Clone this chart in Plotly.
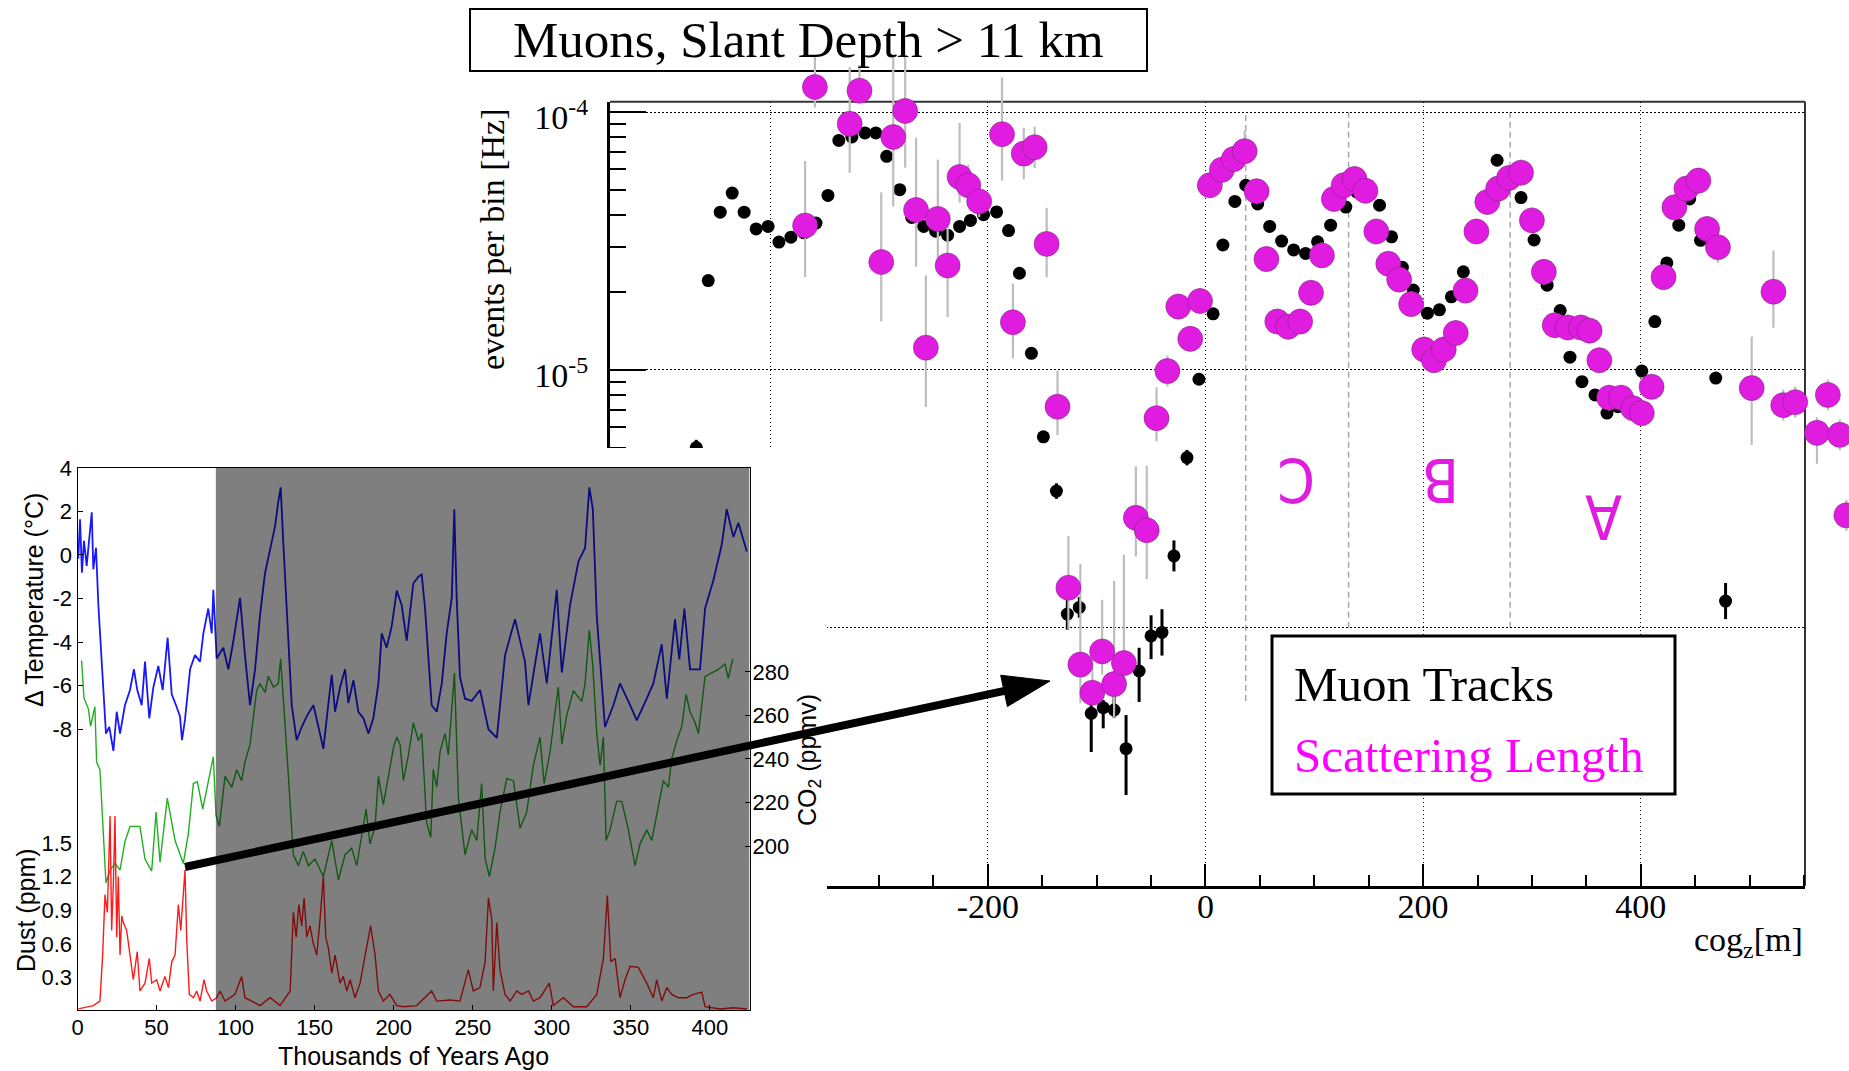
import numpy as np
import plotly.graph_objects as go

W, H = 1849, 1071


def px(x):
    return x / W


def py(y):
    return 1 - y / H


# ---------------- main plot: Muon Tracks (black) ----------------
mt_x = [-468, -457, -446, -435, -424, -413, -402, -392, -381, -369,
        -358, -347, -337, -325, -313, -303, -293, -281, -270, -259,
        -248, -237, -226, -216, -204, -192, -181, -171, -160, -149,
        -137, -127, -116, -105, -94, -84, -73, -61, -50, -40,
        -29, -17, -6, 7, 16, 27, 37, 48, 59, 70,
        81, 92, 103, 115, 129, 139, 150, 160, 171, 181,
        191, 204, 215, 226, 237, 248, 258, 268, 279, 290,
        302, 314, 326, 335, 346, 358, 369, 379, 390, 401,
        413, 424, 435, 445, 455, 469, 478]
mt_y = [5.0e-6, 2.22e-5, 4.09e-5, 4.85e-5, 4.09e-5, 3.52e-5, 3.6e-5, 3.13e-5, 3.27e-5, 3.4e-5,
        3.71e-5, 4.75e-5, 7.76e-5, 8.0e-5, 8.3e-5, 8.3e-5, 6.73e-5, 5.0e-5, 3.9e-5, 3.6e-5,
        3.45e-5, 3.33e-5, 3.6e-5, 3.8e-5, 4.0e-5, 4.1e-5, 3.47e-5, 2.37e-5, 1.16e-5, 5.5e-6,
        3.39e-6, 1.13e-6, 1.2e-6, 4.66e-7, 4.9e-7, 4.8e-7, 3.4e-7, 6.8e-7, 9.3e-7, 9.6e-7,
        1.9e-6, 4.57e-6, 9.2e-6, 1.65e-5, 3.05e-5, 4.5e-5, 5.2e-5, 4.4e-5, 3.6e-5, 3.16e-5,
        2.92e-5, 2.83e-5, 3.14e-5, 3.64e-5, 4.28e-5, 4.9e-5, 4.8e-5, 4.35e-5, 3.28e-5, 2.5e-5,
        2.04e-5, 1.66e-5, 1.71e-5, 1.92e-5, 2.4e-5, 3.5e-5, 4.6e-5, 6.5e-5, 5.8e-5, 4.66e-5,
        3.19e-5, 2.13e-5, 1.7e-5, 1.12e-5, 9.0e-6, 8.0e-6, 6.8e-6, 7.2e-6, 7.6e-6, 9.9e-6,
        1.54e-5, 2.6e-5, 3.64e-5, 4.6e-5, 3.18e-5, 9.3e-6, 1.27e-6]
# error bar lengths in decades (up / down)
mt_err_up = [0.03, 0.02, 0.02, 0.02, 0.02, 0.02, 0.02, 0.02, 0.02, 0.02,
             0.02, 0.02, 0.02, 0.02, 0.02, 0.02, 0.02, 0.02, 0.02, 0.02,
             0.02, 0.02, 0.02, 0.02, 0.02, 0.02, 0.02, 0.02, 0.02, 0.02,
             0.03, 0.06, 0.04, 0.05, 0.03, 0.06, 0.13, 0.09, 0.08, 0.09,
             0.06, 0.03, 0.02, 0.02, 0.02, 0.02, 0.02, 0.02, 0.02, 0.02,
             0.02, 0.02, 0.02, 0.02, 0.02, 0.02, 0.02, 0.02, 0.02, 0.02,
             0.02, 0.02, 0.02, 0.02, 0.02, 0.02, 0.02, 0.02, 0.02, 0.02,
             0.02, 0.02, 0.02, 0.02, 0.02, 0.02, 0.02, 0.02, 0.02, 0.02,
             0.02, 0.02, 0.02, 0.02, 0.02, 0.02, 0.07]
mt_err_dn = [0.03, 0.02, 0.02, 0.02, 0.02, 0.02, 0.02, 0.02, 0.02, 0.02,
             0.02, 0.02, 0.02, 0.02, 0.02, 0.02, 0.02, 0.02, 0.02, 0.02,
             0.02, 0.02, 0.02, 0.02, 0.02, 0.02, 0.02, 0.02, 0.02, 0.02,
             0.03, 0.06, 0.04, 0.15, 0.08, 0.03, 0.18, 0.12, 0.09, 0.09,
             0.06, 0.03, 0.02, 0.02, 0.02, 0.02, 0.02, 0.02, 0.02, 0.02,
             0.02, 0.02, 0.02, 0.02, 0.02, 0.02, 0.02, 0.02, 0.02, 0.02,
             0.02, 0.02, 0.02, 0.02, 0.02, 0.02, 0.02, 0.02, 0.02, 0.02,
             0.02, 0.02, 0.02, 0.02, 0.02, 0.02, 0.02, 0.02, 0.02, 0.02,
             0.02, 0.02, 0.02, 0.02, 0.02, 0.02, 0.07]

# ---------------- main plot: Scattering Length (magenta) ----------------
sl_x = [-368, -359, -327, -318, -298, -287, -276, -266, -257, -246,
        -237, -226, -218, -208, -187, -177, -167, -157, -146, -136,
        -126, -115, -104, -95, -84, -75, -64, -54, -45, -35,
        -25, -14, -5, 4, 15, 26, 36, 47, 56, 66,
        76, 87, 97, 107, 118, 127, 137, 147, 157, 168,
        178, 189, 201, 210, 219, 230, 239, 249, 259, 269,
        279, 290, 300, 311, 321, 333, 345, 353, 362, 371,
        382, 393, 401, 410, 421, 431, 442, 453, 461, 471,
        502, 522, 531, 542, 562, 572, 583, 589]
sl_y = [3.63e-5, 1.25e-4, 9.0e-5, 1.21e-4, 2.62e-5, 8.0e-5, 1.01e-4, 4.17e-5, 1.22e-5, 3.85e-5,
        2.54e-5, 5.6e-5, 5.2e-5, 4.5e-5, 8.2e-5, 1.53e-5, 6.9e-5, 7.3e-5, 3.08e-5, 7.2e-6,
        1.43e-6, 7.2e-7, 5.6e-7, 8.1e-7, 6.05e-7, 7.3e-7, 2.67e-6, 2.39e-6, 6.5e-6, 9.9e-6,
        1.76e-5, 1.32e-5, 1.85e-5, 5.2e-5, 5.97e-5, 6.57e-5, 7.05e-5, 4.93e-5, 2.69e-5, 1.54e-5,
        1.47e-5, 1.54e-5, 1.99e-5, 2.78e-5, 4.6e-5, 5.2e-5, 5.5e-5, 4.95e-5, 3.44e-5, 2.58e-5,
        2.24e-5, 1.8e-5, 1.2e-5, 1.09e-5, 1.2e-5, 1.39e-5, 2.03e-5, 3.44e-5, 4.48e-5, 5.05e-5,
        5.55e-5, 5.82e-5, 3.8e-5, 2.4e-5, 1.49e-5, 1.46e-5, 1.46e-5, 1.42e-5, 1.09e-5, 7.8e-6,
        7.8e-6, 7.1e-6, 6.8e-6, 8.6e-6, 2.29e-5, 4.27e-5, 5.05e-5, 5.42e-5, 3.52e-5, 2.99e-5,
        8.5e-6, 2.01e-5, 7.3e-6, 7.5e-6, 5.7e-6, 8.0e-6, 5.6e-6, 2.73e-6]
sl_err_up = [0.25, 0.12, 0.22, 0.10, 0.27, 0.31, 0.21, 0.28, 0.28, 0.23,
             0.19, 0.21, 0.08, 0.06, 0.22, 0.15, 0.10, 0.08, 0.14, 0.14,
             0.20, 0.39, 0.10, 0.20, 0.40, 0.42, 0.20, 0.25, 0.12, 0.06,
             0.05, 0.05, 0.05, 0.05, 0.05, 0.05, 0.08, 0.05, 0.05, 0.05,
             0.05, 0.05, 0.05, 0.05, 0.05, 0.05, 0.05, 0.05, 0.05, 0.05,
             0.05, 0.05, 0.05, 0.05, 0.05, 0.05, 0.05, 0.05, 0.05, 0.05,
             0.05, 0.05, 0.05, 0.05, 0.05, 0.05, 0.05, 0.05, 0.05, 0.05,
             0.05, 0.05, 0.05, 0.05, 0.05, 0.05, 0.05, 0.05, 0.05, 0.06,
             0.20, 0.16, 0.06, 0.06, 0.06, 0.06, 0.06, 0.06]
sl_err_dn = [0.20, 0.08, 0.19, 0.05, 0.23, 0.27, 0.22, 0.22, 0.23, 0.19,
             0.20, 0.10, 0.06, 0.06, 0.18, 0.14, 0.10, 0.08, 0.13, 0.11,
             0.16, 0.15, 0.05, 0.09, 0.13, 0.09, 0.15, 0.19, 0.09, 0.06,
             0.05, 0.05, 0.05, 0.05, 0.05, 0.05, 0.05, 0.05, 0.05, 0.05,
             0.05, 0.05, 0.05, 0.05, 0.05, 0.05, 0.05, 0.05, 0.05, 0.05,
             0.05, 0.05, 0.05, 0.05, 0.05, 0.05, 0.05, 0.05, 0.05, 0.05,
             0.05, 0.05, 0.05, 0.05, 0.05, 0.05, 0.05, 0.05, 0.05, 0.05,
             0.05, 0.05, 0.05, 0.05, 0.05, 0.05, 0.05, 0.05, 0.05, 0.06,
             0.22, 0.14, 0.06, 0.06, 0.12, 0.06, 0.06, 0.06]

# reference lines / labels on main plot
layer_x = [37, 131.5, 280]
layer_ybot = [5.2e-7, 1e-6, 1e-6]
main_xticks = [-400, -200, 0, 200, 400]
main_xticktext = ['-400', '-200', '0', '200', '400']
main_yticks = [1e-7, 1e-6, 1e-5, 1e-4]
main_yticktext = ['10<sup>-7</sup>', '10<sup>-6</sup>', '10<sup>-5</sup>', '10<sup>-4</sup>']

# ---------------- inset: Vostok ice core ----------------
temp_age = [0.5, 1.6, 2.8, 4.1, 5.8, 7.5, 9.0, 10, 11.7, 13.2,
            14.7, 16.3, 18, 20.1, 22.7, 24.8, 26.9, 30, 33.2, 35.7,
            37.8, 40.6, 42.7, 45.4, 47.9, 51.1, 53.9, 57, 59.6, 62.3,
            64.8, 66.1, 68, 71.2, 74.3, 77.5, 79.6, 82.7, 84.9, 85.9,
            88, 92.2, 95.4, 98.6, 102.8, 105.9, 109.1, 112.3, 115.4, 118.6,
            121.8, 124.9, 127, 128.5, 130.2, 132.3, 135.5, 138.6, 141.8, 145,
            149.2, 152.4, 155.5, 158.7, 160.8, 162.9, 166, 169.2, 171.3, 174.5,
            177.6, 180.8, 184, 187.1, 190.3, 192.4, 195.5, 198.7, 201.9, 205,
            208.2, 212.4, 215.6, 217.7, 219.8, 224, 227.2, 230.4, 233.5, 236.7,
            238.3, 239.8, 241.9, 245.1, 249.3, 254.6, 259.9, 265.2, 270.4, 276.7,
            283, 285.2, 292.5, 296.8, 303.1, 306.3, 311.5, 316.8, 321, 323.7,
            325.9, 328.4, 333.6, 338.9, 343.1, 349.5, 353.7, 360, 364.2, 369.5,
            372.7, 377.9, 380.6, 383.8, 387.4, 393.7, 396.9, 402.2, 407.5, 410.6,
            414.8, 418, 423.3]
temp_val = [-0.17, 1.64, -0.82, 0.65, -0.5, 0.82, 1.96, -0.66, 0.33, -2.3,
            -4.1, -6.56, -8.2, -7.9, -9.0, -7.2, -8.2, -6.9, -6.2, -5.25,
            -6.2, -6.9, -4.9, -7.5, -6.1, -5.1, -6.2, -3.8, -6.4, -6.9,
            -7.4, -8.5, -7.55, -5.25, -4.6, -4.9, -3.6, -2.46, -3.6, -1.6,
            -4.75, -4.26, -5.25, -3.94, -1.97, -4.6, -6.9, -5.25, -2.79, -0.83,
            0.33, 1.3, 2.45, 3.1, 0.49, -2.3, -6.9, -8.5, -7.9, -7.4,
            -6.9, -7.9, -8.9, -6.8, -5.5, -7.2, -6.1, -5.25, -6.8, -5.75,
            -7.2, -7.5, -8.2, -7.5, -5.9, -3.6, -4.26, -3.28, -1.64, -2.3,
            -3.94, -1.3, -1.0, -0.9, -2.46, -6.9, -7.2, -5.9, -3.6, -1.97,
            2.1, -1.97, -5.6, -6.6, -6.7, -6.2, -8.0, -8.4, -4.6, -2.95,
            -4.9, -6.9, -3.6, -5.9, -1.6, -5.4, -2.3, -0.3, 0.32, 3.1,
            2.1, -2.8, -7.9, -6.9, -5.9, -6.9, -7.6, -6.6, -5.9, -4.1,
            -6.6, -2.95, -4.8, -2.46, -5.25, -5.25, -2.46, -1.15, 0.49, 2.1,
            0.82, 1.47, 0.16]

co2_age = [2.6, 4.1, 6.9, 8.3, 11, 12.1, 14.2, 15.9, 18, 20.6,
           23.7, 26.9, 30, 33.2, 39.5, 42.7, 46.9, 49.7, 52.2, 56.8,
           61.7, 66.9, 70.1, 73.3, 75.8, 79.2, 82.7, 85.9, 87.6, 89.7,
           93.3, 97.5, 100.7, 103.8, 105.9, 109.1, 113.3, 115.4, 118.6, 120.7,
           123.9, 127, 128.5, 130.6, 133.4, 136.5, 139.7, 142.8, 146, 150.2,
           155.5, 160.8, 165, 169.2, 173.4, 176.6, 179.7, 182.5, 185, 188.2,
           190.3, 193.4, 196.6, 199.8, 201.9, 204, 206.1, 209.3, 212.4, 215.6,
           217.7, 220.8, 223.4, 225, 227.2, 229.3, 232.4, 234.5, 238.4, 240.9,
           245.1, 249.3, 252.5, 255.6, 257.8, 260.5, 264.1, 267.2, 271.5, 275.7,
           279.9, 284.1, 288.3, 292.5, 295.1, 298.9, 302, 304.1, 306.3, 309.4,
           313.6, 318.9, 321, 323.7, 325.9, 328.4, 330.5, 332.6, 334.3, 336.8,
           341, 344.2, 348.4, 352.6, 355.8, 360, 363.2, 367.4, 370.5, 373.7,
           375.8, 379, 382.2, 384.9, 387.4, 390.6, 392.7, 396.9, 401.1, 405.3,
           409.5, 411.6, 414.4]
co2_val = [285.2, 268, 263, 255, 264, 238.5, 235, 214, 183, 189,
           192, 189, 202, 209, 209, 194, 188.5, 215.6, 192.6, 222,
           202.5, 192, 205.7, 228.7, 229.5, 217, 228.7, 241, 214, 209,
           232, 227, 235, 230, 238.5, 246.7, 271.3, 274.6, 270.5, 278,
           273, 274.6, 286, 264.8, 232, 196, 191, 197.5, 191, 194,
           186, 202.5, 184.4, 196, 199, 191, 205.7, 217, 201, 209,
           232, 219, 232, 245, 250, 246.7, 230, 241.8, 256.6, 248.4,
           251.6, 210.7, 204, 235.2, 227, 243.4, 251.6, 241.8, 279.5, 222,
           196, 207.4, 202.5, 228.7, 194.3, 186, 199.2, 215.6, 231, 230,
           208.2, 215.6, 237, 250, 228.7, 243.4, 261.5, 273, 246.7, 260,
           271.3, 266.4, 274.6, 299.2, 282.8, 251.6, 237, 250, 202.5, 207.4,
           220.5, 220.5, 207.4, 191, 201, 207.4, 202.5, 219, 230, 227,
           240, 248.4, 255, 269.7, 261.5, 256.6, 251.6, 277.9, 279.5, 281.1,
           283.6, 277, 286]

dust_age = [0.5, 5.8, 10, 14.2, 15.9, 17.4, 18.9, 20.6, 21.6, 22.7,
            23.7, 24.8, 25.8, 26.9, 28, 29, 31.1, 33.2, 35.3, 37.8,
            39.5, 42.7, 45.4, 46.9, 50.1, 52.2, 55.3, 57.5, 59.6, 61.7,
            63.8, 65.3, 66.9, 68, 69.1, 70.7, 73.3, 75.4, 77.5, 80,
            81.7, 84.9, 88, 90.1, 93.3, 96.5, 99.6, 103.8, 105.9, 110.2,
            115.4, 121.8, 128.1, 134.5, 136.5, 138.3, 140, 141.8, 143.3, 145,
            147, 149.2, 151.3, 153.4, 155.5, 157, 158.7, 160.8, 162.9, 166,
            168.1, 170.3, 172.4, 175.5, 178.7, 181.9, 185.4, 188.2, 190.3, 193.4,
            197.6, 201.9, 206.1, 214.5, 224, 227.2, 235.6, 241.9, 247.2, 250.3,
            254.5, 257.8, 259.9, 262, 263, 265.2, 267.2, 270.4, 273.6, 277.8,
            281, 285.2, 288.3, 292.5, 298.4, 300.9, 307.3, 313.6, 322.1, 328.4,
            332.6, 335.1, 337.3, 340, 343.1, 346.3, 349.5, 354.7, 360, 364.2,
            366.3, 369.5, 372.7, 375.8, 380, 385.3, 389.5, 394.8, 396.9, 406.4,
            414.8, 423.3]
dust_val = [0.02, 0.04, 0.05, 0.09, 0.5, 1.04, 0.88, 1.74, 0.72, 1.14,
            1.74, 0.66, 1.2, 0.5, 0.85, 0.79, 0.72, 0.5, 0.28, 0.53,
            0.18, 0.25, 0.47, 0.25, 0.28, 0.18, 0.31, 0.21, 0.44, 0.5,
            0.95, 0.72, 1.07, 1.26, 0.63, 0.15, 0.12, 0.18, 0.09, 0.28,
            0.18, 0.09, 0.12, 0.18, 0.09, 0.12, 0.15, 0.31, 0.12, 0.09,
            0.05, 0.12, 0.05, 0.18, 0.88, 0.66, 0.95, 0.76, 1.01, 0.66,
            0.76, 0.6, 0.5, 0.82, 1.2, 0.66, 0.56, 0.34, 0.5, 0.25,
            0.31, 0.18, 0.28, 0.12, 0.25, 0.5, 0.76, 0.5, 0.18, 0.09,
            0.15, 0.05, 0.04, 0.05, 0.18, 0.09, 0.1, 0.09, 0.37, 0.18,
            0.21, 0.44, 1.01, 0.82, 0.18, 0.79, 0.37, 0.15, 0.09, 0.18,
            0.15, 0.18, 0.09, 0.12, 0.25, 0.05, 0.12, 0.04, 0.04, 0.15,
            0.47, 1.03, 0.44, 0.47, 0.12, 0.28, 0.4, 0.39, 0.25, 0.12,
            0.28, 0.09, 0.21, 0.15, 0.12, 0.12, 0.15, 0.17, 0.04, 0.02,
            0.03, 0.02]

inset_xticks = [0, 50, 100, 150, 200, 250, 300, 350, 400]
temp_ticks = [-8, -6, -4, -2, 0, 2, 4]
co2_ticks = [200, 220, 240, 260, 280]
dust_ticks = [0.3, 0.6, 0.9, 1.2, 1.5]
shaded_from = 87.5  # kyr, start of grey band

# ---------------- derived error bars ----------------
mt_y_a = np.array(mt_y)
sl_y_a = np.array(sl_y)
mt_up = mt_y_a * (10 ** np.array(mt_err_up) - 1)
mt_dn = mt_y_a * (1 - 10 ** (-np.array(mt_err_dn)))
sl_up = sl_y_a * (10 ** np.array(sl_err_up) - 1)
sl_dn = sl_y_a * (1 - 10 ** (-np.array(sl_err_dn)))

SERIF = 'Liberation Serif, Times New Roman, serif'
SANS = 'Liberation Sans, Arial, sans-serif'
MAG = '#E01CE0'

# ---------------- geometry (pixels) ----------------
MX0, MX1 = 610, 1805          # main frame left / right
MY_TOP, MY_BOT = 101.7, 885.7  # main frame top / bottom
XR = [-547.3, 551.0]
YR = [-7.0, -3.96]
kx = (MX1 - MX0) / (XR[1] - XR[0])
ky = (MY_BOT - MY_TOP) / (YR[1] - YR[0])
# extended, invisible axes carrying the data so that points above / right of the
# frame are still drawn (same scale as the visible axes)
XR_EXT = [XR[0], XR[0] + (W - MX0) / kx]
YR_EXT = [YR[0], YR[1] + MY_TOP / ky]

TEMP_RANGE = [-20.91, 4.0]
CO2_RANGE = [124.5, 373.7]
DUST_RANGE = [0.007, 4.843]

fig = go.Figure()

# dummy trace so the visible main axes exist as a subplot
fig.add_trace(go.Scatter(x=[0], y=[1e-5], mode='markers', xaxis='x', yaxis='y',
                         marker=dict(opacity=0), hoverinfo='skip', showlegend=False))

fig.add_trace(go.Scatter(
    x=mt_x, y=mt_y, mode='markers', xaxis='x2', yaxis='y2',
    marker=dict(size=13, color='black'),
    error_y=dict(type='data', symmetric=False, array=mt_up, arrayminus=mt_dn,
                 color='black', thickness=3, width=0),
    cliponaxis=False, hoverinfo='skip', showlegend=False))

fig.add_trace(go.Scatter(
    x=sl_x, y=sl_y, mode='markers', xaxis='x2', yaxis='y2',
    marker=dict(size=25, color=MAG, line=dict(color='rgba(120,40,120,0.55)', width=1)),
    error_y=dict(type='data', symmetric=False, array=sl_up, arrayminus=sl_dn,
                 color='#BDBDBD', thickness=2.2, width=0),
    cliponaxis=False, hoverinfo='skip', showlegend=False))

# white cover panel under the inset
fig.add_trace(go.Scatter(x=[0.5], y=[0.5], mode='markers', xaxis='x3', yaxis='y3',
                         marker=dict(opacity=0), hoverinfo='skip', showlegend=False))

# inset curves
fig.add_trace(go.Scatter(x=temp_age, y=temp_val, mode='lines', xaxis='x4', yaxis='y4',
                         line=dict(color='#1818FF', width=1.8), hoverinfo='skip', showlegend=False))
fig.add_trace(go.Scatter(x=co2_age, y=co2_val, mode='lines', xaxis='x4', yaxis='y5',
                         line=dict(color='#22B022', width=1.4), hoverinfo='skip', showlegend=False))
fig.add_trace(go.Scatter(x=dust_age, y=dust_val, mode='lines', xaxis='x4', yaxis='y6',
                         line=dict(color='#FF1A1A', width=1.4), hoverinfo='skip', showlegend=False))

hidden = dict(showgrid=False, zeroline=False, showticklabels=False, showline=False,
              ticks='', automargin=False)

fig.update_layout(
    width=W, height=H, margin=dict(l=0, r=0, t=0, b=0, pad=0, autoexpand=False),
    paper_bgcolor='white', plot_bgcolor='rgba(0,0,0,0)', showlegend=False,
    xaxis=dict(domain=[px(MX0), px(MX1)], range=XR, anchor='y', automargin=False,
               tickmode='array', tickvals=main_xticks, ticktext=main_xticktext,
               ticks='inside', ticklen=22, tickwidth=2, tickcolor='black',
               showline=True, linecolor='black', linewidth=3,
               showgrid=True, gridcolor='black', gridwidth=1, griddash='1.5px,2.5px',
               zeroline=False, ticklabelstandoff=-12,
               tickfont=dict(family=SERIF, size=34, color='black'),
               minor=dict(dtick=50, tick0=0, ticks='inside', ticklen=11, tickwidth=2,
                          tickcolor='black', showgrid=False)),
    yaxis=dict(type='log', domain=[py(MY_BOT), py(MY_TOP)], range=YR, anchor='x',
               automargin=False,
               tickmode='array', tickvals=main_yticks, ticktext=main_yticktext,
               ticks='inside', ticklen=36, tickwidth=2, tickcolor='black',
               showline=True, linecolor='black', linewidth=3,
               showgrid=True, gridcolor='black', gridwidth=1, griddash='1.5px,2.5px',
               zeroline=False, ticklabelstandoff=12, ticklabelshift=5,
               tickfont=dict(family=SERIF, size=34, color='black'),
               minor=dict(dtick='D1', ticks='inside', ticklen=16, tickwidth=2,
                          tickcolor='black', showgrid=False)),
    xaxis2=dict(domain=[px(MX0), 1], range=XR_EXT, anchor='y2', **hidden),
    yaxis2=dict(type='log', domain=[py(MY_BOT), 1], range=YR_EXT, anchor='x2', **hidden),
    xaxis3=dict(domain=[0, px(827)], anchor='y3', range=[0, 1], **hidden),
    yaxis3=dict(domain=[0, py(448)], anchor='x3', range=[0, 1], **hidden),
    xaxis4=dict(domain=[px(77.5), px(749.5)], anchor='y4', range=[0, 425], automargin=False,
                tickmode='array', tickvals=inset_xticks, ticks='inside', ticklen=5,
                tickcolor='black', showline=True, mirror=True, linecolor='black',
                linewidth=1.2, showgrid=False, zeroline=False, ticklabelstandoff=-3,
                tickfont=dict(family=SANS, size=22, color='black')),
    yaxis4=dict(domain=[py(1010.4), py(467.8)], anchor='x4', range=TEMP_RANGE, automargin=False,
                tickmode='array', tickvals=temp_ticks, ticktext=[str(v) for v in temp_ticks],
                ticks='inside', ticklen=5, tickcolor='black', showline=True, mirror=True,
                linecolor='black', linewidth=1.2, showgrid=False, zeroline=False,
                ticklabelstandoff=0,
                tickfont=dict(family=SANS, size=22, color='black')),
    yaxis5=dict(overlaying='y4', side='right', anchor='x4', range=CO2_RANGE, automargin=False,
                tickmode='array', tickvals=co2_ticks, ticks='inside', ticklen=5,
                tickcolor='black', showline=False, showgrid=False, zeroline=False,
                ticklabelstandoff=2,
                tickfont=dict(family=SANS, size=22, color='black')),
    yaxis6=dict(overlaying='y4', side='left', anchor='free', position=px(72), range=DUST_RANGE,
                automargin=False,
                tickmode='array', tickvals=dust_ticks, ticktext=['%.1f' % v for v in dust_ticks],
                ticks='', showline=False, showgrid=False, zeroline=False,
                ticklabelstandoff=0,
                tickfont=dict(family=SANS, size=22, color='black')),
)

shapes = []
# title box
shapes.append(dict(type='rect', xref='paper', yref='paper', x0=px(470), x1=px(1147),
                   y0=py(71), y1=py(9), line=dict(color='black', width=2),
                   fillcolor='white', layer='below'))
# thin top / right frame
shapes.append(dict(type='line', xref='paper', yref='paper', x0=px(MX0), x1=px(MX1),
                   y0=py(MY_TOP), y1=py(MY_TOP), line=dict(color='#333333', width=2), layer='below'))
shapes.append(dict(type='line', xref='paper', yref='paper', x0=px(MX1), x1=px(MX1),
                   y0=py(MY_TOP), y1=py(MY_BOT), line=dict(color='#333333', width=2), layer='below'))
# dashed layer boundaries
for lx, lyb in zip(layer_x, layer_ybot):
    shapes.append(dict(type='line', xref='x', yref='y', x0=lx, x1=lx, y0=lyb, y1=1e-4,
                       line=dict(color='#A8A8A8', width=1.5, dash='6px,4px'), layer='below'))
# white panel that hides the lower-left part of the main frame
shapes.append(dict(type='rect', xref='x3', yref='y3', x0=0, x1=1, y0=0, y1=1,
                   line=dict(width=0), fillcolor='white', layer='below'))
# legend box
shapes.append(dict(type='rect', xref='paper', yref='paper', x0=px(1272), x1=px(1675),
                   y0=py(794), y1=py(636), line=dict(color='black', width=3),
                   fillcolor='white', layer='above'))
# grey shading over the older part of the ice-core record
shapes.append(dict(type='rect', xref='x4', yref='y4', x0=shaded_from, x1=425,
                   y0=TEMP_RANGE[0], y1=TEMP_RANGE[1], line=dict(width=0),
                   fillcolor='rgba(0,0,0,0.5)', layer='above'))
# arrow from inset to the dip
tail = (185, 867)
tip = (1050, 681)
d = np.array(tip) - np.array(tail)
u = d / np.linalg.norm(d)
nrm = np.array([-u[1], u[0]])
hl, hw = 47, 16
base = np.array(tip) - hl * u
c1 = base + hw * nrm
c2 = base - hw * nrm
shapes.append(dict(type='line', xref='paper', yref='paper', x0=px(tail[0]), y0=py(tail[1]),
                   x1=px(base[0] + 4 * u[0]), y1=py(base[1] + 4 * u[1]),
                   line=dict(color='black', width=8), layer='above'))
path = 'M %f,%f L %f,%f L %f,%f Z' % (px(tip[0]), py(tip[1]), px(c1[0]), py(c1[1]),
                                      px(c2[0]), py(c2[1]))
shapes.append(dict(type='path', xref='paper', yref='paper', path=path,
                   fillcolor='black', line=dict(color='black', width=1), layer='above'))
fig.update_layout(shapes=shapes)

ann = []
ann.append(dict(x=px(808), y=py(40), xref='paper', yref='paper', showarrow=False,
                text='Muons, Slant Depth &gt; 11 km', xanchor='center', yanchor='middle',
                font=dict(family=SERIF, size=51, color='black')))
ann.append(dict(x=px(493), y=py(239), xref='paper', yref='paper', showarrow=False,
                text='events per bin [Hz]', textangle=-90, xanchor='center', yanchor='middle',
                font=dict(family=SERIF, size=34, color='black')))
ann.append(dict(x=px(1805), y=py(942), xref='paper', yref='paper', showarrow=False,
                text='cog<sub>z</sub>[m]', xanchor='right', yanchor='middle',
                font=dict(family=SERIF, size=34, color='black')))
ann.append(dict(x=px(1292), y=py(684), xref='paper', yref='paper', showarrow=False,
                text='Muon Tracks', xanchor='left', yanchor='middle',
                font=dict(family=SERIF, size=49, color='black')))
ann.append(dict(x=px(1292), y=py(755), xref='paper', yref='paper', showarrow=False,
                text='Scattering Length', xanchor='left', yanchor='middle',
                font=dict(family=SERIF, size=49, color='#FF00FF')))
for txt, lx, ly in [('C', 1296, 480), ('B', 1440.5, 480), ('A', 1604, 517)]:
    ann.append(dict(x=px(lx), y=py(ly), xref='paper', yref='paper', showarrow=False,
                    text=txt, textangle=180, xanchor='center', yanchor='middle',
                    font=dict(family='Liberation Sans Narrow, DejaVu Sans Condensed, Liberation Sans',
                              size=60, color=MAG)))
# inset titles
ann.append(dict(x=px(34), y=py(600), xref='paper', yref='paper', showarrow=False,
                text='Δ Temperature (°C)', textangle=-90, xanchor='center', yanchor='middle',
                font=dict(family=SANS, size=25, color='black')))
ann.append(dict(x=px(26), y=py(910), xref='paper', yref='paper', showarrow=False,
                text='Dust (ppm)', textangle=-90, xanchor='center', yanchor='middle',
                font=dict(family=SANS, size=25, color='black')))
ann.append(dict(x=px(809), y=py(760), xref='paper', yref='paper', showarrow=False,
                text='CO<sub>2</sub> (ppmv)', textangle=-90, xanchor='center', yanchor='middle',
                font=dict(family=SANS, size=25, color='black')))
ann.append(dict(x=px(413.5), y=py(1056), xref='paper', yref='paper', showarrow=False,
                text='Thousands of Years Ago', xanchor='center', yanchor='middle',
                font=dict(family=SANS, size=25, color='black')))
fig.update_layout(annotations=ann)

fig.write_html('out.html')
